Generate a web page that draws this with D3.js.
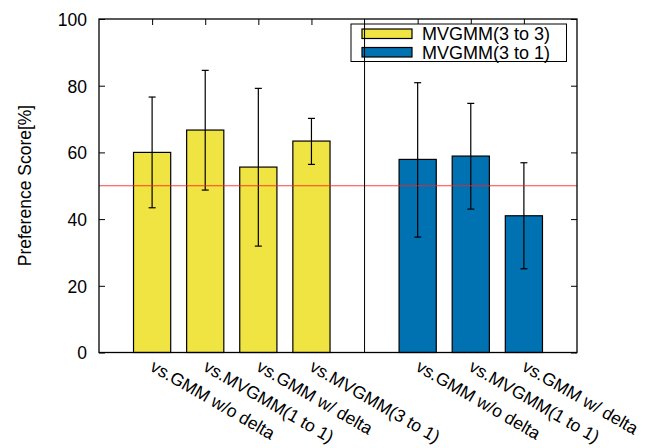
<!DOCTYPE html>
<html>
<head>
<meta charset="utf-8">
<script src="https://cdn.jsdelivr.net/npm/d3@7"></script>
<style>
  body { margin: 0; background: #fff; }
  text { font-family: "Liberation Sans", Arial, sans-serif; fill: #000; }
</style>
</head>
<body>
<div id="graph"></div>
<script>
// data
var labels = ["vs.GMM w/o delta", "vs.MVGMM(1 to 1)", "vs.GMM w/ delta", "vs.MVGMM(3 to 1)",
              "vs.GMM w/o delta", "vs.MVGMM(1 to 1)", "vs.GMM w/ delta"];
var groups = ["MVGMM(3 to 3)", "MVGMM(3 to 3)", "MVGMM(3 to 3)", "MVGMM(3 to 3)",
              "MVGMM(3 to 1)", "MVGMM(3 to 1)", "MVGMM(3 to 1)"];
var slots = [0, 1, 2, 3, 5, 6, 7];
var scores = [60.0, 66.7, 55.6, 63.4, 57.9, 58.9, 41.0];
var errLow = [43.4, 48.7, 31.9, 56.4, 34.6, 43.0, 25.1];
var errHigh = [76.6, 84.6, 79.2, 70.2, 80.9, 74.7, 56.9];
var legendNames = ["MVGMM(3 to 3)", "MVGMM(3 to 1)"];
var yTicks = [0, 20, 40, 60, 80, 100];
var refLine = 50;
var separatorSlot = 4;

var w = 657, h = 448;
var pLeft = 99, pRight = 577, pTop = 19, pBottom = 352.5;

var svg = d3.select("#graph").append("svg")
  .attr("width", w)
  .attr("height", h);

var x = d3.scaleLinear().domain([-1, 8]).range([pLeft, pRight]);
var y = d3.scaleLinear().domain([0, 100]).range([pBottom, pTop]);
var color = d3.scaleOrdinal().domain(legendNames).range(["#f0e442", "#0072b2"]);

var data = scores.map(function(s, i) {
  return {label: labels[i], group: groups[i], slot: slots[i], score: s, lo: errLow[i], hi: errHigh[i]};
});

var bw = x(0.7) - x(0);

// y axis (ticks inside)
var gy = svg.append("g")
  .attr("transform", "translate(" + pLeft + ",0)")
  .call(d3.axisLeft(y).tickValues(yTicks).tickSize(-6).tickPadding(12));
gy.select(".domain").remove();
gy.selectAll("text").style("font-size", "17.5px").attr("dy", "0.36em");

// right side ticks
var gyr = svg.append("g")
  .attr("transform", "translate(" + pRight + ",0)")
  .call(d3.axisRight(y).tickValues(yTicks).tickSize(-6).tickFormat(""));
gyr.select(".domain").remove();

// top ticks at bar centers
var gxt = svg.append("g")
  .attr("transform", "translate(0," + pTop + ")")
  .call(d3.axisTop(x).tickValues(slots).tickSize(-6).tickFormat(""));
gxt.select(".domain").remove();

// bars
svg.selectAll(".bar")
  .data(data)
  .enter().append("rect")
  .attr("class", "bar")
  .attr("x", function(d) { return x(d.slot) - bw / 2; })
  .attr("width", bw)
  .attr("y", function(d) { return y(d.score); })
  .attr("height", function(d) { return y(0) - y(d.score); })
  .attr("fill", function(d) { return color(d.group); })
  .attr("stroke", "#000")
  .attr("stroke-width", 1.2);

// error bars
var eb = svg.selectAll(".err")
  .data(data)
  .enter().append("g")
  .attr("class", "err")
  .attr("stroke", "#000")
  .attr("stroke-width", 1.2);
eb.append("line")
  .attr("x1", function(d) { return x(d.slot); })
  .attr("x2", function(d) { return x(d.slot); })
  .attr("y1", function(d) { return y(d.lo); })
  .attr("y2", function(d) { return y(d.hi); });
eb.append("line")
  .attr("x1", function(d) { return x(d.slot) - 3.5; })
  .attr("x2", function(d) { return x(d.slot) + 3.5; })
  .attr("y1", function(d) { return y(d.lo); })
  .attr("y2", function(d) { return y(d.lo); });
eb.append("line")
  .attr("x1", function(d) { return x(d.slot) - 3.5; })
  .attr("x2", function(d) { return x(d.slot) + 3.5; })
  .attr("y1", function(d) { return y(d.hi); })
  .attr("y2", function(d) { return y(d.hi); });

// 50% line
svg.append("line")
  .attr("x1", pLeft).attr("x2", pRight)
  .attr("y1", y(refLine)).attr("y2", y(refLine))
  .attr("stroke", "#ff2020")
  .attr("stroke-opacity", 0.85)
  .attr("stroke-width", 1.2);

// legend
var lg = svg.append("g");
lg.append("rect")
  .attr("x", 351).attr("y", 24)
  .attr("width", 215.5).attr("height", 37.5)
  .attr("fill", "#fff")
  .attr("stroke", "#000")
  .attr("stroke-width", 1);
legendNames.forEach(function(name, i) {
  lg.append("rect")
    .attr("x", 362).attr("y", 29 + i * 18.5)
    .attr("width", 50).attr("height", 9.5)
    .attr("fill", color(name))
    .attr("stroke", "#000")
    .attr("stroke-width", 1.2);
  lg.append("text")
    .attr("x", 422).attr("y", 34 + i * 18.5)
    .attr("dy", "0.36em")
    .style("font-size", "18px")
    .text(name);
});

// separator between the two groups
svg.append("line")
  .attr("x1", x(separatorSlot)).attr("x2", x(separatorSlot))
  .attr("y1", pTop).attr("y2", pBottom)
  .attr("stroke", "#000")
  .attr("stroke-width", 1);

// frame
svg.append("rect")
  .attr("x", pLeft).attr("y", pTop)
  .attr("width", pRight - pLeft).attr("height", pBottom - pTop)
  .attr("fill", "none")
  .attr("stroke", "#000")
  .attr("stroke-width", 1.3);

// rotated category labels
svg.selectAll(".xlab")
  .data(data)
  .enter().append("text")
  .attr("class", "xlab")
  .attr("transform", function(d) {
    return "translate(" + (x(d.slot) - 3) + "," + 370 + ") rotate(30)";
  })
  .style("font-size", "17.5px")
  .text(function(d) { return d.label; });

// y label
svg.append("text")
  .attr("transform", "translate(30.5,185.5) rotate(-90)")
  .attr("text-anchor", "middle")
  .style("font-size", "17.5px")
  .text("Preference Score[%]");
</script>
</body>
</html>
